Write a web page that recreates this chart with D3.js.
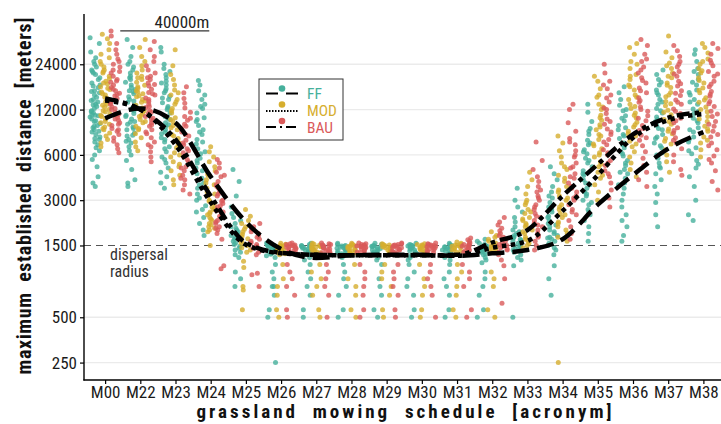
<!DOCTYPE html>
<html>
<head>
<meta charset="utf-8">
<script src="https://cdn.jsdelivr.net/npm/d3@7"></script>
<style>
  body { margin: 0; background: #fff; }
  svg text { font-family: "Roboto Condensed", "Liberation Sans Narrow", "DejaVu Sans Condensed", Roboto, sans-serif; }
  .title { white-space: pre; }
</style>
</head>
<body>
<div id="chart"></div>
<script>
// mowing schedules on the x axis
var categories = ["M00", "M22", "M23", "M24", "M25", "M26", "M27", "M28", "M29",
                  "M30", "M31", "M32", "M33", "M34", "M35", "M36", "M37", "M38"];
var scenarios = ["FF", "MOD", "BAU"];
var yTicks = [250, 500, 1500, 3000, 6000, 12000, 24000];

// maximum established distance [m], one array per schedule
var ffPoints = [
  [36000, 33000, 29000, 26500, 25000, 24000, 23000, 22000, 21000, 20500, 19500, 19000, 18000, 17500, 16800, 16000, 15500, 15000, 14500, 14000, 13500, 13000, 12600, 12200, 11800, 11400, 11000, 10700, 10400, 10000, 9700, 9400, 9100, 8800, 8500, 8200, 7900, 7600, 7300, 7000, 6700, 6400, 6000, 5600, 5000, 4300, 3900, 3700, 15800, 13800, 12900, 11600, 10900, 10100, 9300, 8600, 7700, 21500, 17200, 11100],
  [35000, 31000, 27000, 25000, 24000, 23000, 22000, 21000, 20000, 19000, 18200, 17500, 16800, 16000, 15300, 14600, 14000, 13400, 12800, 12300, 11800, 11300, 10800, 10400, 10000, 9600, 9200, 8800, 8400, 8000, 7600, 7200, 6800, 6400, 6000, 5500, 4800, 4100, 3900, 3700, 15800, 13700, 12000, 11000, 9900, 9000, 8100, 7400, 19500, 16300],
  [31000, 29000, 24000, 22500, 21500, 20500, 19500, 18500, 17500, 16500, 15500, 14700, 14000, 13300, 12600, 12000, 11400, 10800, 10300, 9800, 9300, 8800, 8300, 7800, 7300, 6800, 6300, 5800, 5300, 4900, 4600, 4300, 3900, 3600, 14300, 12300, 10500, 9500, 8500, 7600, 6600, 5600, 18000, 16000],
  [18700, 17500, 16000, 15000, 14000, 13000, 12200, 11400, 10600, 10000, 9400, 8800, 8200, 7600, 7100, 6600, 6100, 5700, 5300, 4900, 4500, 4200, 3900, 3600, 3300, 3000, 2750, 2500, 2300, 2100, 1900, 1750, 12600, 10300, 8500, 7300, 6300, 5500, 4700, 3800, 3100, 2600],
  [4800, 4000, 3200, 2700, 2450, 2300, 2200, 2100, 2000, 1950, 1900, 1850, 1800, 1750, 1700, 1650, 1600, 1560, 1520, 1480, 1440, 1400, 1350, 1300, 1250, 1000, 900, 800],
  [1560, 1540, 1520, 1500, 1490, 1480, 1470, 1460, 1450, 1440, 1430, 1420, 1400, 1390, 1370, 1350, 1330, 1310, 1280, 1250, 1120, 1000, 900, 800, 800, 700, 560, 500, 250],
  [1550, 1520, 1500, 1490, 1480, 1470, 1450, 1440, 1420, 1400, 1380, 1360, 1340, 1320, 1300, 1250, 1200, 1120, 1000, 900, 800, 700, 560, 500],
  [1550, 1520, 1500, 1490, 1480, 1460, 1450, 1440, 1420, 1400, 1380, 1360, 1340, 1320, 1300, 1250, 1120, 1000, 900, 800, 700, 560, 500],
  [1550, 1520, 1500, 1490, 1480, 1470, 1450, 1430, 1410, 1400, 1380, 1360, 1340, 1320, 1300, 1250, 1200, 1120, 900, 800, 700, 560, 500],
  [1550, 1520, 1510, 1500, 1490, 1480, 1460, 1450, 1440, 1420, 1400, 1380, 1360, 1340, 1320, 1280, 1250, 1200, 1120, 1000, 900, 800, 700, 560, 500],
  [1550, 1520, 1500, 1490, 1470, 1460, 1450, 1430, 1410, 1400, 1380, 1350, 1320, 1300, 1250, 1200, 1120, 1000, 900, 800, 700, 560, 500],
  [1650, 1600, 1550, 1520, 1500, 1480, 1460, 1440, 1420, 1400, 1380, 1350, 1320, 1300, 1250, 1200, 1150, 1000, 900, 800, 700, 560, 500],
  [3600, 3000, 2700, 2500, 2300, 2150, 2000, 1900, 1800, 1750, 1700, 1650, 1600, 1550, 1500, 1450, 1420, 1400, 1350, 1300, 1250, 1200, 1100, 500, 1850, 1680, 1620, 1520, 1480, 1380],
  [5000, 4500, 4100, 3700, 3400, 3100, 2900, 2700, 2500, 2350, 2200, 2100, 2000, 1900, 1800, 1750, 1700, 1650, 1600, 1550, 1500, 1450, 1400, 1300, 1100, 900, 700, 3200, 2600, 2300, 2050, 1850, 1680],
  [13000, 11500, 10000, 9000, 8200, 7500, 7000, 6500, 6100, 5700, 5300, 5000, 4700, 4400, 4100, 3800, 3600, 3400, 3200, 3000, 2800, 2600, 2400, 2200, 2000, 1800, 1600, 8600, 7200, 6300, 5500, 4500, 3900, 3300, 2900, 2500],
  [17000, 15500, 14000, 12800, 11800, 10900, 10100, 9400, 8800, 8200, 7700, 7200, 6700, 6300, 5900, 5500, 5100, 4800, 4500, 4200, 3900, 3600, 3300, 3000, 2700, 2400, 2200, 2000, 1750, 1600, 12000, 10500, 9100, 8000, 7000, 6100, 5300, 4600, 3800],
  [22000, 20500, 19000, 17500, 16200, 15000, 14000, 13000, 12200, 11400, 10700, 10000, 9400, 8800, 8200, 7700, 7200, 6700, 6200, 5700, 5300, 4900, 4500, 4100, 3700, 3300, 2900, 2400, 2000, 18200, 15500, 13500, 11800, 10300, 9000, 7900, 6900, 6000, 5000],
  [30000, 28000, 25000, 22500, 20500, 19000, 17500, 16200, 15000, 14000, 13000, 12100, 11300, 10500, 9800, 9100, 8500, 7900, 7300, 6700, 6100, 5500, 4900, 4300, 3700, 3000, 2400, 2200, 21500, 18200, 15600, 13500, 11700, 10100, 8800, 7600, 6400, 5200]
];
var modPoints = [
  [38000, 35500, 33000, 30000, 28000, 26500, 25000, 24000, 23000, 22000, 21000, 20000, 19200, 18500, 17800, 17000, 16300, 15700, 15000, 14500, 14000, 13500, 13000, 12500, 12000, 11600, 11200, 10800, 10400, 10000, 9600, 9200, 8800, 8400, 8000, 7600, 7200, 6800, 21500, 18000, 15300, 14200, 12800, 11800, 11000, 9800, 9000, 16600],
  [35000, 31000, 27000, 25000, 23500, 22000, 21000, 20000, 19000, 18200, 17400, 16600, 16000, 15300, 14600, 14000, 13400, 12800, 12300, 11800, 11300, 10800, 10300, 9800, 9300, 8800, 8300, 7800, 7300, 6800, 6400, 19500, 17000, 14800, 13700, 12000, 11000, 10000, 9000, 15700],
  [30000, 23500, 20500, 19000, 17500, 16200, 15000, 14000, 13000, 12200, 11400, 10600, 10000, 9400, 8800, 8200, 7700, 7200, 6700, 6200, 5800, 5400, 5000, 4700, 4400, 4100, 3800, 15500, 13500, 11800, 10300, 9100, 8000, 7000, 6000, 5200],
  [6800, 6300, 5800, 5400, 5000, 4700, 4400, 4100, 3800, 3600, 3400, 3200, 3000, 2850, 2700, 2600, 2500, 2400, 2300, 2200, 2100, 2000, 1900, 1850, 1500, 4500, 3900, 3300, 2950, 2650, 2450, 2250, 2050, 1950],
  [2600, 2350, 2200, 2100, 2000, 1920, 1850, 1780, 1720, 1660, 1600, 1550, 1500, 1450, 1400, 1350, 1180, 1070, 800, 760, 560],
  [1550, 1530, 1510, 1500, 1490, 1480, 1460, 1450, 1440, 1430, 1410, 1400, 1380, 1360, 1340, 1320, 1300, 1120, 900, 800, 700, 560, 500],
  [1550, 1530, 1510, 1500, 1490, 1470, 1460, 1450, 1430, 1410, 1400, 1380, 1360, 1340, 1320, 1120, 1000, 900, 800, 700, 560, 500],
  [1550, 1530, 1510, 1500, 1490, 1480, 1470, 1450, 1430, 1410, 1400, 1380, 1360, 1340, 1320, 1120, 900, 800, 700, 560, 500],
  [1540, 1520, 1510, 1500, 1490, 1470, 1460, 1450, 1440, 1420, 1400, 1380, 1360, 1340, 1120, 1000, 900, 800, 700, 560, 500],
  [1540, 1520, 1510, 1500, 1490, 1480, 1460, 1450, 1430, 1410, 1400, 1370, 1340, 1120, 900, 800, 700, 560, 500],
  [1580, 1550, 1520, 1510, 1500, 1490, 1480, 1460, 1440, 1420, 1400, 1380, 1350, 1120, 1000, 900, 800, 700, 560, 500],
  [1850, 1750, 1700, 1650, 1600, 1560, 1520, 1500, 1480, 1460, 1440, 1420, 1400, 1350, 1000, 900, 800, 560, 500],
  [4600, 4100, 3700, 3300, 3000, 2800, 2600, 2450, 2300, 2200, 2100, 2000, 1900, 1800, 1700, 1600, 1550, 1500, 1450, 2900, 2500, 2250, 2050, 1850, 1650],
  [8000, 7200, 6400, 5800, 5300, 4800, 4400, 4000, 3700, 3400, 3200, 3000, 2800, 2600, 2450, 2300, 2150, 2000, 1900, 1800, 1700, 1600, 250, 5000, 4200, 3500, 3100, 2700, 2400, 2100],
  [20000, 18500, 16500, 14500, 13000, 12000, 11000, 10200, 9500, 8800, 8200, 7600, 7100, 6600, 6200, 5800, 5400, 5000, 4600, 4200, 3800, 3400, 3000, 15000, 12500, 10600, 9200, 8000, 6900, 6000, 5200, 4400],
  [33000, 31000, 28000, 25000, 22500, 20500, 19000, 17500, 16200, 15000, 14000, 13000, 12200, 11400, 10600, 9900, 9200, 8600, 8000, 7400, 6800, 6300, 5800, 5300, 4800, 4300, 24000, 20000, 17000, 14500, 12600, 11000, 9500, 8300, 7100],
  [37000, 29000, 26500, 24500, 22500, 21000, 19500, 18000, 16800, 15600, 14600, 13600, 12700, 11900, 11100, 10300, 9600, 8900, 8300, 7700, 7100, 6500, 6000, 5400, 4600, 23500, 20000, 17400, 15000, 13100, 11500, 10000, 8600, 7400],
  [33000, 31000, 28500, 26000, 24000, 22500, 21000, 19500, 18000, 16700, 15500, 14400, 13400, 12500, 11600, 10800, 10000, 9300, 8600, 7900, 7200, 6500, 5800, 25000, 21700, 18700, 16100, 13900, 12000, 10400, 8900, 7500]
];
var bauPoints = [
  [40000, 37000, 33000, 30000, 28000, 26000, 25000, 24000, 23000, 22000, 21000, 20000, 19000, 18200, 17500, 16800, 16000, 15400, 14800, 14200, 13600, 13000, 12500, 12000, 11500, 11000, 10600, 10200, 9800, 9400, 9000, 8600, 8200, 7800, 7400, 7000, 6600, 6200, 21500, 18600, 16400, 15100, 13300, 12200, 11200, 10400, 9600, 8800],
  [34000, 30000, 27000, 25000, 23500, 22000, 21000, 20000, 19000, 18000, 17200, 16400, 15600, 15000, 14300, 13600, 13000, 12400, 11800, 11300, 10800, 10300, 9800, 9300, 8800, 8300, 7800, 7300, 6800, 6300, 5800, 5400, 19500, 17600, 15300, 14000, 12600, 11500, 10500, 9500, 8500, 7000],
  [17000, 15500, 14200, 13200, 12300, 11500, 10800, 10200, 9600, 9000, 8500, 8000, 7500, 7000, 6600, 6200, 5800, 5400, 5000, 4700, 4400, 4100, 3800, 3500, 3300, 10500, 9300, 8200, 7200, 6400, 5600, 4900, 4200],
  [5600, 5300, 4900, 4600, 4300, 4000, 3800, 3600, 3400, 3200, 3000, 2850, 2700, 2600, 2500, 2400, 2300, 2200, 2100, 2000, 1900, 1800, 1650, 1100, 1050, 4400, 3700, 3300, 2950, 2750, 2550, 2350, 2150, 1950],
  [2100, 2000, 1920, 1850, 1800, 1750, 1700, 1650, 1600, 1560, 1520, 1480, 1440, 1400, 1350, 1300, 980, 960, 800],
  [1560, 1540, 1520, 1510, 1500, 1490, 1480, 1470, 1460, 1450, 1440, 1420, 1400, 1380, 1360, 1340, 1320, 1120, 1000, 900, 800, 700, 560, 500],
  [1560, 1540, 1520, 1510, 1500, 1490, 1480, 1460, 1450, 1440, 1420, 1400, 1380, 1360, 1340, 1320, 1120, 1000, 900, 800, 700, 500],
  [1560, 1540, 1520, 1510, 1500, 1490, 1480, 1470, 1460, 1440, 1420, 1400, 1380, 1360, 1340, 1320, 1120, 1000, 900, 800, 700, 560, 500],
  [1560, 1540, 1520, 1510, 1500, 1490, 1480, 1460, 1450, 1430, 1410, 1400, 1380, 1360, 1340, 1320, 1120, 1000, 900, 800, 700, 560, 500],
  [1560, 1540, 1520, 1510, 1500, 1490, 1480, 1470, 1450, 1440, 1420, 1400, 1380, 1360, 1340, 1120, 1000, 900, 800, 700, 500],
  [1680, 1640, 1600, 1560, 1530, 1520, 1500, 1490, 1480, 1460, 1440, 1420, 1400, 1380, 1350, 1120, 1000, 900, 800, 560, 500],
  [2300, 2150, 2050, 1950, 1880, 1800, 1750, 1700, 1650, 1600, 1560, 1520, 1500, 1480, 1450, 1420, 1400, 1350, 1300, 1200, 1100, 900, 620],
  [7300, 5500, 4800, 4300, 4000, 3700, 3400, 3200, 3000, 2800, 2600, 2450, 2300, 2200, 2100, 2000, 1900, 1800, 1700, 1600, 1500, 1400, 3500, 3100, 2700, 2350, 2050, 1750],
  [13000, 12000, 9800, 8600, 7700, 7000, 6400, 5800, 5300, 4900, 4500, 4200, 3900, 3600, 3400, 3200, 3000, 2800, 2600, 2400, 2200, 2000, 1800, 1650, 7300, 6000, 5000, 4300, 3700, 3100, 2500],
  [24000, 21000, 18500, 16500, 15000, 13500, 12300, 11300, 10400, 9600, 8900, 8200, 7600, 7000, 6500, 6000, 5500, 5100, 4700, 4300, 3900, 3500, 3100, 2700, 17500, 14300, 12000, 10000, 8500, 7300, 6200, 5300, 4500],
  [35000, 32000, 28000, 25000, 23000, 21000, 19500, 18000, 16700, 15500, 14400, 13400, 12500, 11700, 10900, 10100, 9400, 8700, 8100, 7500, 6900, 6300, 5700, 5100, 4600, 4100, 3700, 26000, 22000, 18700, 16000, 13800, 12000, 10500, 9000, 7800],
  [32000, 29500, 27000, 25000, 23000, 21500, 20000, 18500, 17200, 16000, 14900, 13900, 13000, 12100, 11300, 10500, 9800, 9100, 8400, 7800, 7200, 6600, 6000, 5400, 4800, 4400, 24000, 20700, 17800, 15400, 13400, 11700, 10100, 8700, 7500],
  [33000, 30500, 28000, 25500, 23500, 21500, 20000, 18500, 17000, 15800, 14700, 13600, 12600, 11700, 10800, 10000, 9300, 8600, 7900, 7200, 6500, 5900, 5300, 4700, 4000, 3500, 24500, 20700, 17700, 15200, 13100, 11200, 9600, 8200, 6900, 5600]
];

// smoothed trend per scenario, one value per schedule
var ffTrend  = [10500, 12200, 9800, 4300, 2150, 1420, 1240, 1290, 1300, 1300, 1280, 1330, 1400, 1650, 2800, 4400, 6600, 8500];
var modTrend = [13800, 12000, 7000, 2900, 1520, 1330, 1300, 1290, 1290, 1290, 1280, 1450, 1610, 2550, 4400, 7800, 10200, 11200];
var bauTrend = [14200, 12000, 7600, 3200, 1560, 1340, 1300, 1290, 1290, 1290, 1300, 1570, 1900, 3200, 5200, 8200, 10600, 11500];

var dispersalRadius = 1500;
var scaleBar = 40000;

var W = 721, H = 424;
var plotLeft = 84, plotTop = 14, plotBottom = 380;

var svg = d3.select("#chart").append("svg")
  .attr("width", W)
  .attr("height", H);

var x = d3.scalePoint().domain(categories).range([plotLeft, 724.5]).padding(0.6);
var y = d3.scaleLog().domain([191.5, 51800]).range([plotBottom, plotTop]);

var series = [
  { name: "FF",  color: "#46b09c", pts: ffPoints,  trend: ffTrend,  dash: "17,8",       shift: -10 },
  { name: "MOD", color: "#d6ae2e", pts: modPoints, trend: modTrend, dash: "4.5,4.5",    shift: 0 },
  { name: "BAU", color: "#da5a5a", pts: bauPoints, trend: bauTrend, dash: "13,5,4.5,5", shift: 10 }
];

// grid
svg.append("g").selectAll("line")
  .data(yTicks.filter(function (d) { return d !== dispersalRadius; }))
  .enter().append("line")
    .attr("x1", plotLeft).attr("x2", W)
    .attr("y1", function (d) { return y(d); })
    .attr("y2", function (d) { return y(d); })
    .attr("stroke", "#ebebeb")
    .attr("stroke-width", 1.4);

// dispersal radius
svg.append("line")
  .attr("x1", plotLeft).attr("x2", W)
  .attr("y1", y(dispersalRadius)).attr("y2", y(dispersalRadius))
  .attr("stroke", "#555")
  .attr("stroke-width", 1.2)
  .attr("stroke-dasharray", "7,5");

svg.selectAll(".radius-label")
  .data(["dispersal", "radius"])
  .enter().append("text")
    .attr("class", "radius-label")
    .attr("x", 110)
    .attr("y", function (d, i) { return y(dispersalRadius) + 15 + i * 16.5; })
    .attr("font-size", "16px").attr("fill", "#333")
    .text(function (d) { return d; });

// jittered, dodged points (jitter is a fixed hash of the point index)
function jitter(i, ci, si) {
  var h = Math.sin(i * 12.9898 + ci * 78.233 + si * 37.719) * 43758.5453;
  return h - Math.floor(h) - 0.5;
}
var flat = [];
series.forEach(function (s, si) {
  s.pts.forEach(function (vals, ci) {
    vals.forEach(function (v, i) {
      flat.push({ cat: categories[ci], v: v, color: s.color, dx: s.shift + jitter(i, ci, si) * 10 });
    });
  });
});

svg.append("g").selectAll("circle")
  .data(flat)
  .enter().append("circle")
    .attr("cx", function (d) { return x(d.cat) + d.dx; })
    .attr("cy", function (d) { return y(d.v); })
    .attr("r", 2.5)
    .attr("fill", function (d) { return d.color; })
    .attr("fill-opacity", 0.8);

// trend lines
var line = d3.line()
  .x(function (d, i) { return x(categories[i]); })
  .y(function (d) { return y(d); })
  .curve(d3.curveMonotoneX);

svg.append("g").selectAll("path")
  .data(series)
  .enter().append("path")
    .attr("d", function (s) { return line(s.trend); })
    .attr("fill", "none")
    .attr("stroke", "#000")
    .attr("stroke-width", 4.5)
    .attr("stroke-dasharray", function (s) { return s.dash; });

// scale bar
var xc = d3.scaleLinear().domain([0.4, 18.6]).range([plotLeft, 724.5]);
svg.append("line")
  .attr("x1", xc(1.43)).attr("x2", xc(3.96))
  .attr("y1", y(scaleBar)).attr("y2", y(scaleBar))
  .attr("stroke", "#333").attr("stroke-width", 1.3);
svg.append("text")
  .attr("x", xc(3.96)).attr("y", y(scaleBar) - 3)
  .attr("text-anchor", "end")
  .attr("font-size", "17px").attr("fill", "#222")
  .text(scaleBar + "m");

// axes
var yAxis = svg.append("g")
  .attr("transform", "translate(" + plotLeft + ",0)")
  .call(d3.axisLeft(y).tickValues(yTicks).tickFormat(d3.format("d")).tickSize(4).tickPadding(3));
var xAxis = svg.append("g")
  .attr("transform", "translate(0," + plotBottom + ")")
  .call(d3.axisBottom(x).tickSize(4).tickPadding(2));

[yAxis, xAxis].forEach(function (g) {
  g.select(".domain").remove();
  g.selectAll(".tick line").attr("stroke", "#000").attr("stroke-width", 1.2);
  g.selectAll(".tick text").attr("fill", "#1a1a1a").attr("font-size", "17px").attr("font-family", null);
});

svg.append("line").attr("x1", plotLeft).attr("x2", plotLeft).attr("y1", plotTop).attr("y2", plotBottom + 0.6)
  .attr("stroke", "#000").attr("stroke-width", 1.4);
svg.append("line").attr("x1", plotLeft - 0.6).attr("x2", W).attr("y1", plotBottom).attr("y2", plotBottom)
  .attr("stroke", "#000").attr("stroke-width", 1.4);

// axis titles
svg.append("text")
  .attr("class", "title")
  .attr("transform", "translate(31,196) rotate(-90)")
  .attr("text-anchor", "middle")
  .attr("font-size", "20px").attr("font-weight", "bold").attr("fill", "#111")
  .attr("textLength", 357).attr("lengthAdjust", "spacing")
  .text("maximum  established  distance  [meters]");

svg.append("text")
  .attr("class", "title")
  .attr("x", 404).attr("y", 418)
  .attr("text-anchor", "middle")
  .attr("font-size", "19px").attr("font-weight", "bold").attr("fill", "#111")
  .attr("textLength", 415).attr("lengthAdjust", "spacing")
  .text("grassland  mowing  schedule  [acronym]");

// legend
var legend = svg.append("g").attr("transform", "translate(259,79)");
legend.append("rect")
  .attr("width", 84).attr("height", 61)
  .attr("fill", "#fff").attr("stroke", "#333").attr("stroke-width", 1);

var keyDash = ["12,8", "1.5,1.5", "10,4,2,4"];
var keyLineY = [14.5, 32, 48];
var keyDotY = [9.5, 25.5, 42];
var keyTextY = [20, 37, 54];

var rows = legend.selectAll(".key").data(series).enter().append("g").attr("class", "key");
rows.append("line")
  .attr("x1", 7).attr("x2", 39)
  .attr("y1", function (d, i) { return keyLineY[i]; })
  .attr("y2", function (d, i) { return keyLineY[i]; })
  .attr("stroke", "#000").attr("stroke-width", 2)
  .attr("stroke-dasharray", function (d, i) { return keyDash[i]; });
rows.append("circle")
  .attr("cx", 23).attr("cy", function (d, i) { return keyDotY[i]; })
  .attr("r", 3.3).attr("fill", function (d) { return d.color; });
rows.append("text")
  .attr("x", 48).attr("y", function (d, i) { return keyTextY[i]; })
  .attr("font-size", "15.5px")
  .attr("fill", function (d) { return d.color; })
  .text(function (d) { return d.name; });
</script>
</body>
</html>
